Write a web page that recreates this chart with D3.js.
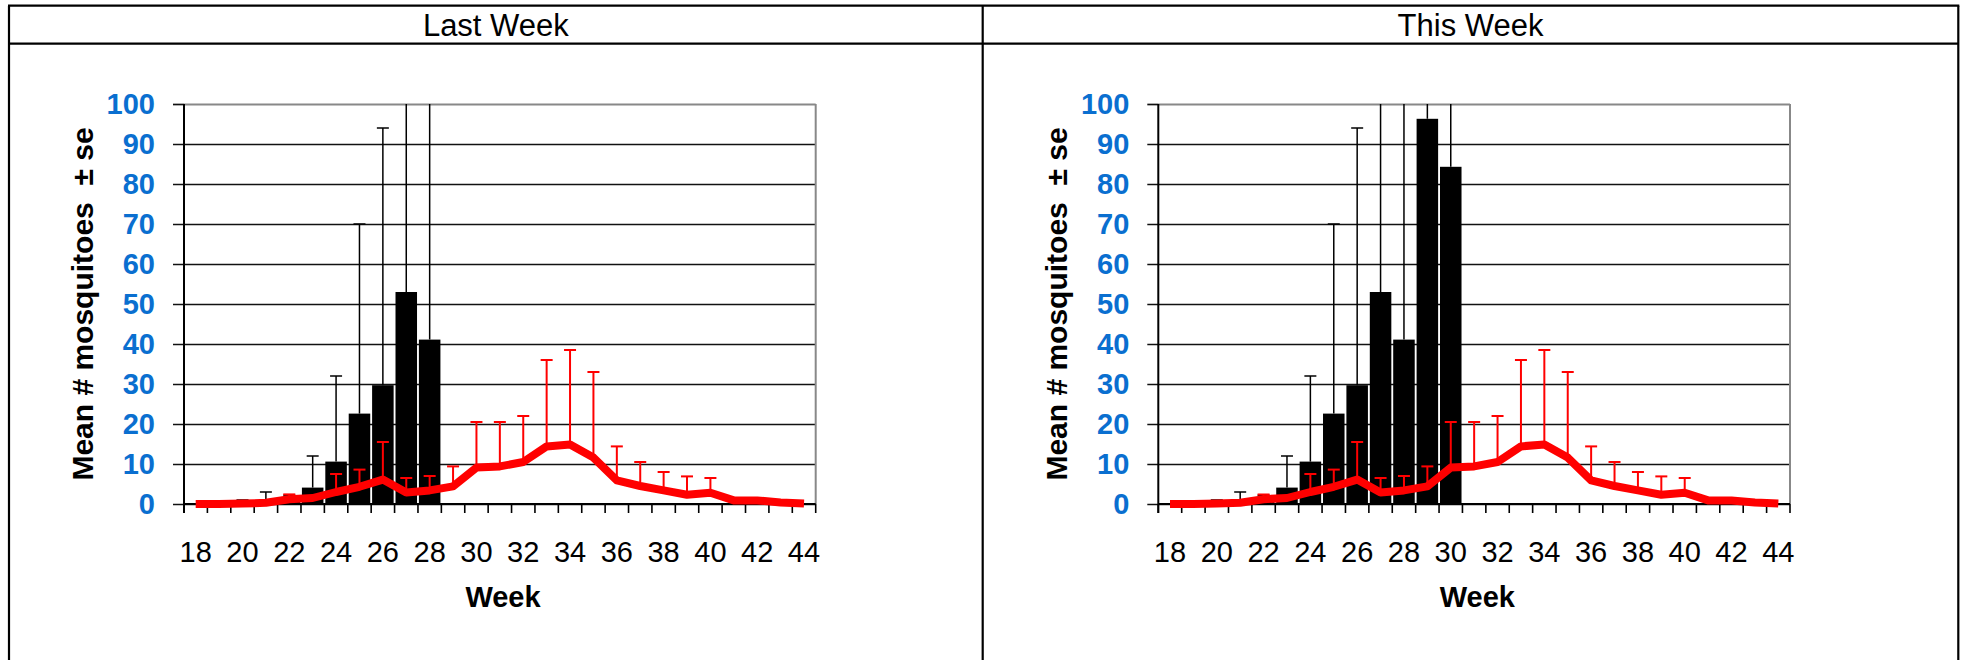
<!DOCTYPE html>
<html>
<head>
<meta charset="utf-8">
<script src="https://cdn.jsdelivr.net/npm/d3@7"></script>
<style>
  html, body { margin: 0; padding: 0; background: #fff; }
  svg { display: block; }
  text { font-family: "Liberation Sans", Arial, sans-serif; }
</style>
</head>
<body>
<svg id="chart" width="1965" height="660"></svg>
<script>
// Trap-count weeks shown on the x axis
const weeks = [18, 19, 20, 21, 22, 23, 24, 25, 26, 27, 28, 29, 30, 31,
               32, 33, 34, 35, 36, 37, 38, 39, 40, 41, 42, 43, 44];
const weekTickLabels = ["18", "20", "22", "24", "26", "28", "30", "32",
                        "34", "36", "38", "40", "42", "44"];
const yTickValues = [0, 10, 20, 30, 40, 50, 60, 70, 80, 90, 100];

// Current season: mean count per trap and its standard error (weeks 18-28)
const lastWeekMean = [0, 0, 0.3, 0.6, 1.0, 4.1, 10.6, 22.6, 29.7, 53.0, 41.1];
const lastWeekSE   = [0, 0, 0.7, 2.4, 1.2, 7.9, 21.4, 47.4, 64.3, 60, 70];

// Current season one week later (weeks 18-30)
const thisWeekMean = [0, 0, 0.3, 0.6, 1.0, 4.1, 10.6, 22.6, 29.7, 53.0, 41.1, 96.3, 84.3];
const thisWeekSE   = [0, 0, 0.7, 2.4, 1.2, 7.9, 21.4, 47.4, 64.3, 60, 70, 30, 25];

// Long-term average (red line) and its standard error, weeks 18-44
const avgMean = [0, 0, 0.1, 0.3, 1.2, 1.5, 3.0, 4.3, 6.1, 2.9, 3.4, 4.4, 9.1, 9.4,
                 10.5, 14.4, 14.9, 11.6, 5.9, 4.5, 3.4, 2.3, 2.8, 0.9, 0.9, 0.4, 0.1];
const avgSE   = [0, 0, 0, 0, 1.2, 0, 4.5, 4.3, 9.4, 3.6, 3.6, 5.0, 11.4, 11.1,
                 11.5, 21.6, 23.6, 21.4, 8.5, 6.0, 4.6, 4.6, 3.7, 0, 0, 0, 0];

const panelTitles = ["Last Week", "This Week"];

const svg = d3.select("#chart");

// ---- table frame ----
const frame = { left: 9, right: 1958.3, top: 5.7, header: 43.7, mid: 982.7, bottom: 662 };
const fg = svg.append("g").attr("stroke", "#000").attr("stroke-width", 2.2);
fg.append("line").attr("x1", frame.left - 1).attr("x2", frame.right + 1).attr("y1", frame.top).attr("y2", frame.top);
fg.append("line").attr("x1", frame.left).attr("x2", frame.right).attr("y1", frame.header).attr("y2", frame.header);
[frame.left, frame.mid, frame.right].forEach(x =>
  fg.append("line").attr("x1", x).attr("x2", x).attr("y1", frame.top).attr("y2", frame.bottom));

svg.append("text").attr("x", (frame.left + frame.mid) / 2).attr("y", 36)
  .attr("text-anchor", "middle").attr("font-size", 31).text(panelTitles[0]);
svg.append("text").attr("x", (frame.mid + frame.right) / 2).attr("y", 36)
  .attr("text-anchor", "middle").attr("font-size", 31).text(panelTitles[1]);

// ---- one chart panel ----
function drawPanel(offsetX, barMeans, barSE, clipId) {
  const plot = { left: 184, right: 815.7, top: 104, bottom: 504 };
  const g = svg.append("g").attr("transform", `translate(${offsetX},0)`);

  const x = d3.scaleBand().domain(weeks).range([plot.left, plot.right]).padding(0);
  const y = d3.scaleLinear().domain([0, 100]).range([plot.bottom, plot.top]);
  const cx = w => x(w) + x.bandwidth() / 2;

  g.append("clipPath").attr("id", clipId).append("rect")
    .attr("x", plot.left).attr("y", plot.top)
    .attr("width", plot.right - plot.left).attr("height", plot.bottom - plot.top);

  // horizontal gridlines with outward ticks on the value axis
  const yAxis = d3.axisLeft(y).tickValues(yTickValues).tickSize(-(plot.right - plot.left))
    .tickSizeOuter(0).tickFormat("");
  const ya = g.append("g").attr("transform", `translate(${plot.left},0)`).call(yAxis);
  ya.select(".domain").remove();
  ya.selectAll(".tick line").attr("stroke", "#111").attr("stroke-width", 1.7)
    .attr("x1", -11)
    .filter(d => d === 100).attr("stroke", "#888").attr("stroke-width", 2).attr("x1", 0);
  ya.selectAll(".tick").filter(d => d === 100).append("line")
    .attr("x1", -11).attr("x2", 0).attr("stroke", "#111").attr("stroke-width", 1.7);

  // right border of the plot area
  g.append("line").attr("x1", plot.right).attr("x2", plot.right)
    .attr("y1", plot.top).attr("y2", plot.bottom).attr("stroke", "#888").attr("stroke-width", 2);

  // y tick labels
  g.append("g").selectAll("text").data(yTickValues).join("text")
    .attr("x", 155).attr("y", d => y(d)).attr("dy", "0.35em")
    .attr("text-anchor", "end").attr("font-size", 29).attr("font-weight", "bold")
    .attr("fill", "#0a6fd0").text(d => d);

  // bars for the current season
  const barWeeks = weeks.slice(0, barMeans.length);
  const barW = x.bandwidth() * 0.92;
  const data = barWeeks.map((w, i) => ({ w, m: barMeans[i], se: barSE[i] }));
  const clipped = g.append("g").attr("clip-path", `url(#${clipId})`);
  clipped.selectAll("rect.bar").data(data.filter(d => d.m > 0)).join("rect")
    .attr("class", "bar")
    .attr("x", d => cx(d.w) - barW / 2).attr("width", barW)
    .attr("y", d => y(d.m)).attr("height", d => y(0) - y(d.m))
    .attr("fill", "#000");

  // black upper error bars
  const eb = clipped.append("g").attr("stroke", "#000").attr("stroke-width", 1.5);
  data.filter(d => d.se > 0).forEach(d => {
    eb.append("line").attr("x1", cx(d.w)).attr("x2", cx(d.w))
      .attr("y1", y(d.m)).attr("y2", y(d.m + d.se));
    eb.append("line").attr("x1", cx(d.w) - 6).attr("x2", cx(d.w) + 6)
      .attr("y1", y(d.m + d.se)).attr("y2", y(d.m + d.se));
  });

  // red upper error bars for the long-term average
  const avg = weeks.map((w, i) => ({ w, m: avgMean[i], se: avgSE[i] }));
  const rb = clipped.append("g").attr("stroke", "#ff0000").attr("stroke-width", 2);
  avg.filter(d => d.se > 0).forEach(d => {
    rb.append("line").attr("x1", cx(d.w)).attr("x2", cx(d.w))
      .attr("y1", y(d.m)).attr("y2", y(d.m + d.se));
    rb.append("line").attr("x1", cx(d.w) - 6).attr("x2", cx(d.w) + 6)
      .attr("y1", y(d.m + d.se)).attr("y2", y(d.m + d.se));
  });

  // bottom category axis with ticks between weeks
  g.append("line").attr("x1", plot.left).attr("x2", plot.right)
    .attr("y1", plot.bottom).attr("y2", plot.bottom).attr("stroke", "#000").attr("stroke-width", 2);
  const bounds = weeks.map(w => x(w)).concat([plot.right]);
  g.append("g").selectAll("line").data(bounds).join("line")
    .attr("x1", d => d).attr("x2", d => d)
    .attr("y1", plot.bottom).attr("y2", plot.bottom + 9)
    .attr("stroke", "#000").attr("stroke-width", 1.6);

  // left value axis line
  g.append("line").attr("x1", plot.left).attr("x2", plot.left)
    .attr("y1", plot.top).attr("y2", plot.bottom + 9).attr("stroke", "#000").attr("stroke-width", 2);

  // red average line
  const line = d3.line().x(d => cx(d.w)).y(d => y(d.m)).curve(d3.curveLinear);
  g.append("path").datum(avg).attr("d", line)
    .attr("fill", "none").attr("stroke", "#ff0000").attr("stroke-width", 8)
    .attr("stroke-linejoin", "round");

  // x tick labels
  g.append("g").selectAll("text").data(weekTickLabels).join("text")
    .attr("x", d => cx(+d)).attr("y", 562)
    .attr("text-anchor", "middle").attr("font-size", 29).attr("fill", "#000").text(d => d);

  // axis titles
  g.append("text").attr("x", 503).attr("y", 607).attr("text-anchor", "middle")
    .attr("font-size", 29).attr("font-weight", "bold").text("Week");
  g.append("text").attr("transform", "translate(93,304) rotate(-90)")
    .attr("text-anchor", "middle").attr("font-size", 30).attr("font-weight", "bold")
    .style("white-space", "pre").text("Mean # mosquitoes  ± se");
}

drawPanel(0, lastWeekMean, lastWeekSE, "clipLast");
drawPanel(974.3, thisWeekMean, thisWeekSE, "clipThis");
</script>
</body>
</html>
